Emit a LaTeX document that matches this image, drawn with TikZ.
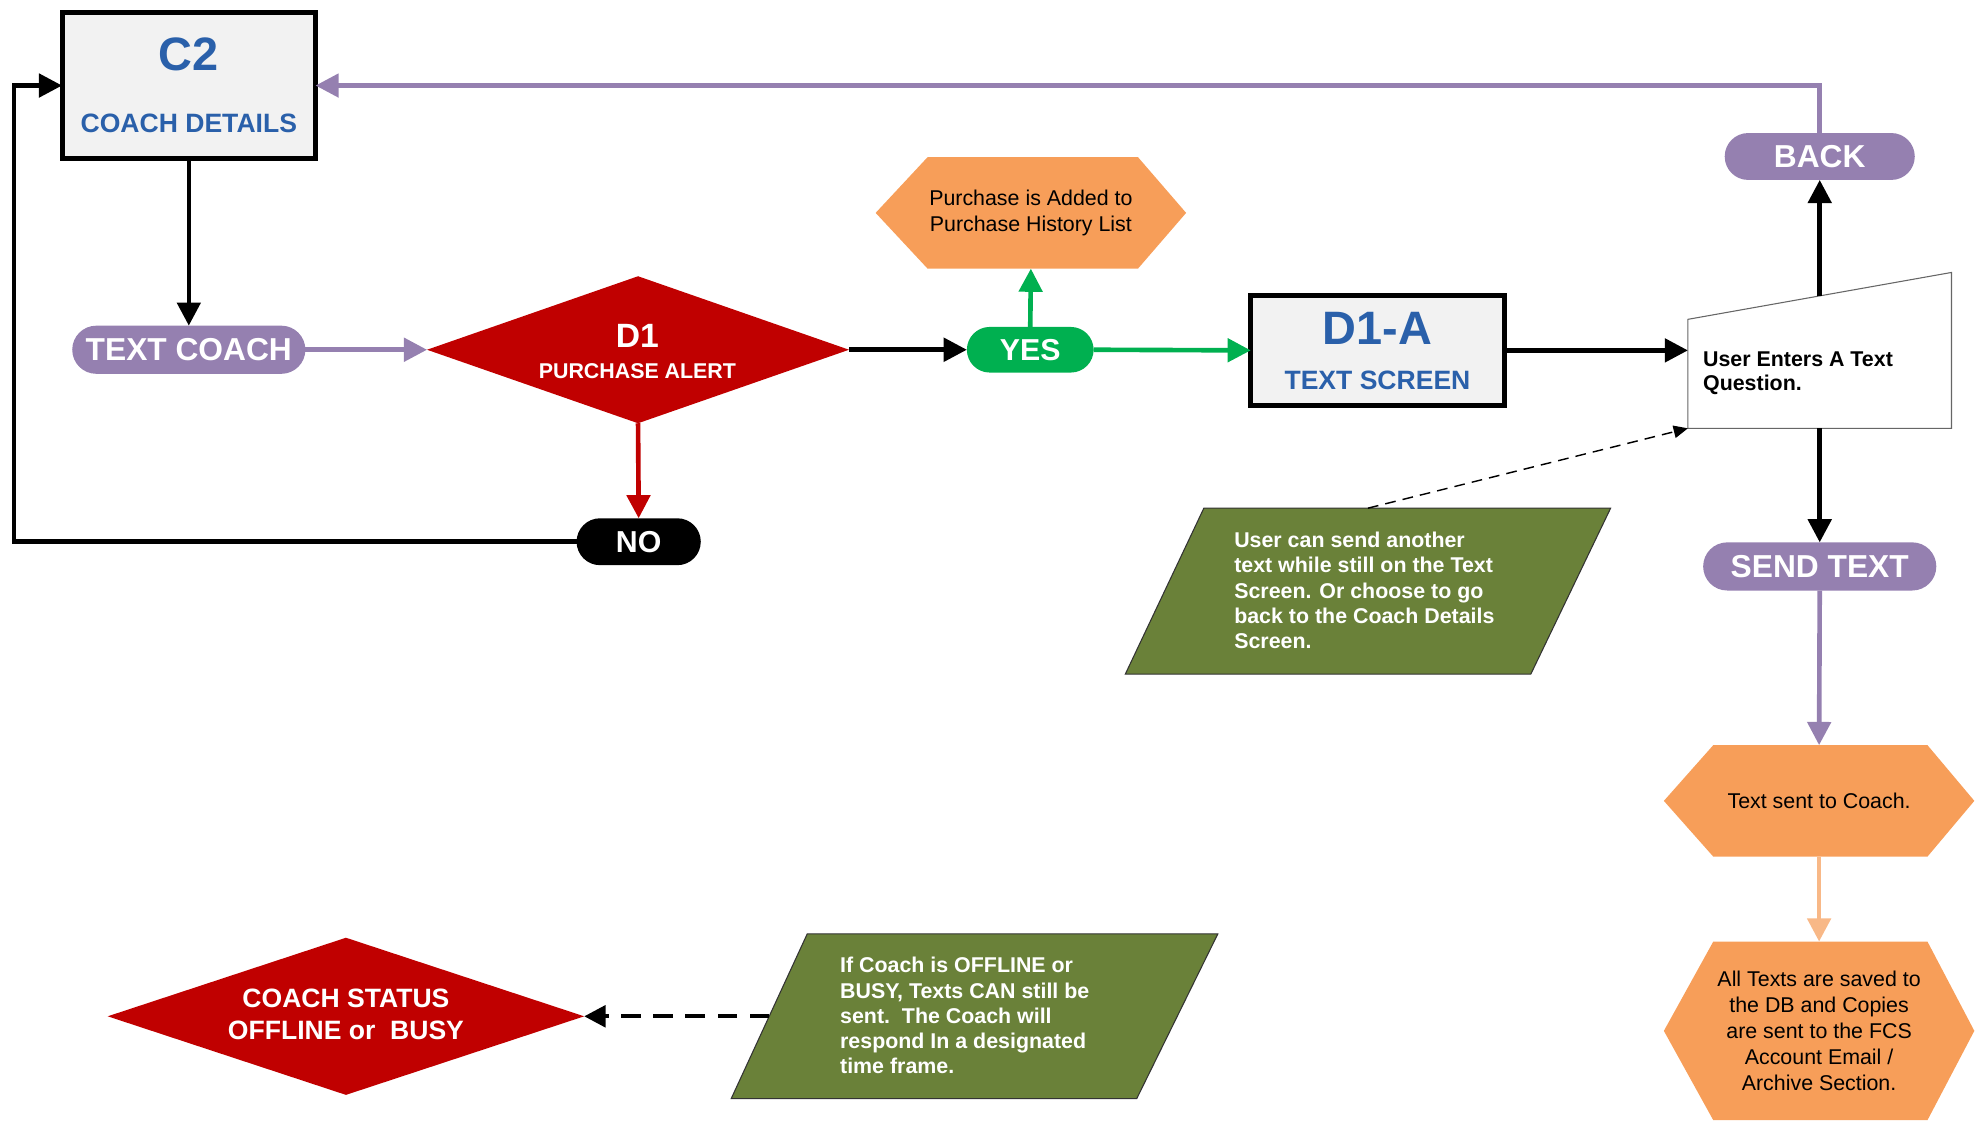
\documentclass[tikz,border=0pt]{standalone}
\usepackage{fontspec}
\setmainfont{Liberation Sans}
\usetikzlibrary{arrows.meta,shapes.geometric,shapes.misc,calc}
\pgfdeclarelayer{bg}
\pgfsetlayers{bg,main}
\newcommand{\pxu}{0.025cm}
\definecolor{cblue}{HTML}{2A60AA}
\definecolor{cpurple}{HTML}{9580B0}
\definecolor{cred}{HTML}{C00000}
\definecolor{cgreen}{HTML}{00B050}
\definecolor{corange}{HTML}{F79E59}
\definecolor{corlight}{HTML}{F8B887}
\definecolor{colive}{HTML}{6A8139}
\definecolor{boxgray}{HTML}{F2F2F2}
\begin{document}
\begin{tikzpicture}[x=\pxu, y=-\pxu,
  every node/.style={inner sep=0pt, outer sep=0pt},
  screenbox/.style={draw=black, line width=2.8pt, fill=boxgray, minimum width=200*\pxu},
  titletxt/.style={text=cblue, font=\bfseries\fontsize{26.3}{30}\selectfont},
  subtxt/.style={text=cblue, font=\bfseries\fontsize{14.9}{17}\selectfont},
  pill/.style={rounded rectangle, text=white, font=\bfseries\fontsize{17.8}{20}\selectfont},
  bodyb/.style={font=\bfseries\fontsize{12}{14.2}\selectfont, align=left},
  bodyr/.style={font=\fontsize{12}{14.8}\selectfont, align=center},
  arr/.style={line width=2.6pt, -{Triangle[length=13pt,width=13pt]}},
]
\useasboundingbox (0,0) rectangle (1568,885);

% ---------- nodes ----------
\node[screenbox, minimum height=115*\pxu] (c2) at (149,67.5) {};
\node[titletxt] (c2t) at (149,43) {C2};
\node[subtxt] (c2s) at (149,97) {COACH DETAILS};

\node[pill, fill=cpurple, minimum width=184*\pxu, minimum height=38*\pxu] (tc) at (149,276) {TEXT COACH};

\node[diamond, fill=cred, minimum width=333*\pxu, minimum height=116*\pxu] (d1) at (503.5,276) {};
\node[text=white, font=\bfseries\fontsize{18.9}{21}\selectfont] (d1t) at (503,265) {D1};
\node[text=white, font=\bfseries\fontsize{12}{14}\selectfont] (d1s) at (503,293) {PURCHASE ALERT};

\node[pill, fill=cgreen, minimum width=100*\pxu, minimum height=36*\pxu, font=\bfseries\fontsize{17}{20}\selectfont] (yes) at (813,276) {YES};

\node[bodyr, minimum width=245*\pxu, minimum height=88*\pxu] (h1) at (813.5,168) {Purchase is Added to\\Purchase History List};

\node[screenbox, minimum height=87*\pxu] (d1a) at (1087,276.5) {};
\node[titletxt] (d1at) at (1087,259) {D1-A};
\node[subtxt] (d1as) at (1087,300) {TEXT SCREEN};

\node[pill, fill=black, minimum width=98*\pxu, minimum height=37*\pxu, font=\bfseries\fontsize{17}{20}\selectfont] (no) at (504,427.5) {NO};

\node[minimum width=208*\pxu, minimum height=123*\pxu] (mi) at (1436,276.5) {};
\node[bodyb, anchor=west, font=\bfseries\fontsize{12}{13.5}\selectfont] (mit) at (1344,294.5) {User Enters A Text\\Question.};
\coordinate (mitop) at ($(mi.north)+(0,18.5)$);

\node[pill, fill=cpurple, minimum width=150*\pxu, minimum height=37*\pxu] (back) at (1436,123.5) {BACK};
\node[pill, fill=cpurple, minimum width=184*\pxu, minimum height=38*\pxu] (send) at (1436,447) {SEND TEXT};

\node[bodyr, minimum width=245*\pxu, minimum height=88*\pxu] (h2) at (1435.5,632) {Text sent to Coach.};
\node[bodyr, minimum width=245*\pxu, minimum height=141*\pxu, font=\fontsize{12}{14.6}\selectfont] (h3) at (1435.5,813.5) {All Texts are saved to\\the DB and Copies\\are sent to the FCS\\Account Email /\\Archive Section.};

\node[minimum width=383*\pxu, minimum height=131*\pxu] (g1) at (1079.5,466.5) {};
\node[bodyb, anchor=west, text=white] (g1t) at (974,466) {User can send another\\text while still on the Text\\Screen. Or choose to go\\back to the Coach Details\\Screen.};

\node[minimum width=384*\pxu, minimum height=130*\pxu] (g2) at (769,802) {};
\node[bodyb, anchor=west, text=white] (g2t) at (663,801.5) {If Coach is OFFLINE or\\BUSY, Texts CAN still be\\sent.\ \ The Coach will\\respond In a designated\\time frame.};
\coordinate (g2l) at ($(g2.west)+(30,0)$);

\node[diamond, fill=cred, minimum width=376*\pxu, minimum height=124*\pxu] (d2) at (273,802) {};
\node[text=white, font=\bfseries\fontsize{14.9}{17.8}\selectfont, align=center] (d2t) at (273,800.5) {COACH STATUS\\OFFLINE or\ \ BUSY};

\coordinate (lp) at (11,0);

% ---------- shapes on background ----------
\begin{pgfonlayer}{bg}
\fill[corange] (h1.west) -- ($(h1.north west)+(41,0)$) -- ($(h1.north east)+(-38,0)$) -- (h1.east)
  -- ($(h1.south east)+(-38,0)$) -- ($(h1.south west)+(41,0)$) -- cycle;
\fill[corange] (h2.west) -- ($(h2.north west)+(39,0)$) -- ($(h2.north east)+(-37,0)$) -- (h2.east)
  -- ($(h2.south east)+(-37,0)$) -- ($(h2.south west)+(39,0)$) -- cycle;
\fill[corange] (h3.west) -- ($(h3.north west)+(39,0)$) -- ($(h3.north east)+(-37,0)$) -- (h3.east)
  -- ($(h3.south east)+(-37,0)$) -- ($(h3.south west)+(39,0)$) -- cycle;
\filldraw[fill=white, draw=black!60, line width=0.6pt] (mi.south west) -- ($(mi.north west)+(0,37)$)
  -- (mi.north east) -- (mi.south east) -- cycle;
\filldraw[fill=colive, draw=black!80, line width=0.6pt] ($(g1.north west)+(62,0)$) -- (g1.north east)
  -- ($(g1.south east)+(-63,0)$) -- (g1.south west) -- cycle;
\filldraw[fill=colive, draw=black!80, line width=0.6pt] ($(g2.north west)+(60,0)$) -- (g2.north east)
  -- ($(g2.south east)+(-64,0)$) -- (g2.south west) -- cycle;
\end{pgfonlayer}

% ---------- connectors ----------
\draw[arr] (c2.south) -- (tc.north);
\draw[arr, cpurple] (tc.east) -- (d1.west);
\draw[arr] (d1.east) -- (yes.west);
\draw[arr, cgreen] (yes.north) -- (h1.south);
\draw[arr, cgreen] (yes.east) -- (d1a.west);
\draw[arr, cred] (d1.south) -- (no.north);
\draw[arr] (no.west) -- (no.west -| lp) |- (c2.west);
\draw[arr] (d1a.east) -- (mi.west);
\draw[arr] (mitop) -- (back.south);
\draw[arr, cpurple] (back.north) |- (c2.east);
\draw[arr] (mi.south) -- (send.north);
\draw[arr, cpurple] (send.south) -- (h2.north);
\draw[arr, corlight] (h2.south) -- (h3.north);
\draw[line width=0.8pt, dash pattern=on 6pt off 4pt, -{Triangle[length=8pt,width=7pt]}] (g1.north) -- (mi.south west);
\draw[line width=2.4pt, dash pattern=on 11pt off 7pt, -{Triangle[length=12pt,width=12pt]}] (g2l) -- (d2.east);
\end{tikzpicture}
\end{document}
